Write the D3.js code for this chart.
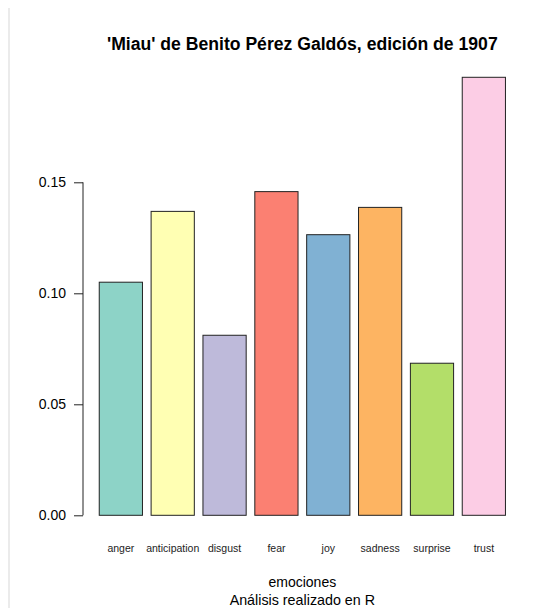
<!DOCTYPE html>
<html>
<head>
<meta charset="utf-8">
<script src="https://cdn.jsdelivr.net/npm/d3@7"></script>
<style>
  body { margin: 0; background: #fff; }
  svg { display: block; font-family: "Liberation Sans", Arial, sans-serif; }
</style>
</head>
<body>
<svg id="chart" width="557" height="608"></svg>
<script>
const categories = ['anger', 'anticipation', 'disgust', 'fear', 'joy', 'sadness', 'surprise', 'trust'];
const values = [0.1050, 0.1369, 0.0811, 0.1458, 0.1264, 0.1387, 0.0685, 0.1973];
const yTicks = [0, 0.05, 0.10, 0.15];
const colors = ['#8DD3C7', '#FFFFB3', '#BEBADA', '#FB8072', '#80B1D3', '#FDB462', '#B3DE69', '#FCCDE5'];

const width = 557, height = 608;
const svg = d3.select('#chart');

// thin grey rule on the left edge
svg.append('rect')
    .attr('x', 8).attr('y', 8)
    .attr('width', 2).attr('height', height - 8)
    .attr('fill', '#ebebeb');

// R barplot units: bars of width 1, space 0.2
const x = d3.scaleLinear().domain([-0.176, 9.976]).range([83, 521.7]);
const y = d3.scaleLinear().domain([0, 0.2]).range([515.3, 71.3]);
const midX = (x.range()[0] + x.range()[1]) / 2;

const data = categories.map((c, i) => ({ name: c, value: values[i], left: 0.2 + 1.2 * i }));

svg.selectAll('rect.bar')
    .data(data)
    .enter().append('rect')
    .attr('class', 'bar')
    .attr('x', d => x(d.left))
    .attr('y', d => y(d.value))
    .attr('width', d => x(d.left + 1) - x(d.left))
    .attr('height', d => y(0) - y(d.value))
    .attr('fill', (d, i) => colors[i])
    .attr('stroke', '#222')
    .attr('stroke-width', 1);

// y axis
const yAxis = svg.append('g')
    .attr('transform', 'translate(83,0)')
    .call(d3.axisLeft(y).tickValues(yTicks).tickFormat(d3.format('.2f')).tickSize(9).tickPadding(8).tickSizeOuter(0));
yAxis.select('.domain').remove();
yAxis.append('line')
    .attr('x1', 0).attr('x2', 0)
    .attr('y1', y(0)).attr('y2', y(0.15))
    .attr('stroke', '#222');
yAxis.selectAll('.tick line').attr('stroke', '#222');
yAxis.selectAll('.tick text')
    .attr('fill', '#000')
    .style('font-size', '14px')
    .style('font-family', '"Liberation Sans", Arial, sans-serif');

// category labels
svg.selectAll('text.cat')
    .data(data)
    .enter().append('text')
    .attr('class', 'cat')
    .attr('x', d => x(d.left + 0.5))
    .attr('y', 552)
    .attr('text-anchor', 'middle')
    .style('font-size', '10.5px')
    .attr('fill', '#222')
    .text(d => d.name);

// title
svg.append('text')
    .attr('x', midX)
    .attr('y', 50)
    .attr('text-anchor', 'middle')
    .style('font-size', '17.6px')
    .style('font-weight', 'bold')
    .text("'Miau' de Benito Pérez Galdós, edición de 1907");

svg.append('text')
    .attr('x', midX)
    .attr('y', 587)
    .attr('text-anchor', 'middle')
    .style('font-size', '14px')
    .text('emociones');

svg.append('text')
    .attr('x', midX)
    .attr('y', 605)
    .attr('text-anchor', 'middle')
    .style('font-size', '14.3px')
    .text('Análisis realizado en R');
</script>
</body>
</html>
